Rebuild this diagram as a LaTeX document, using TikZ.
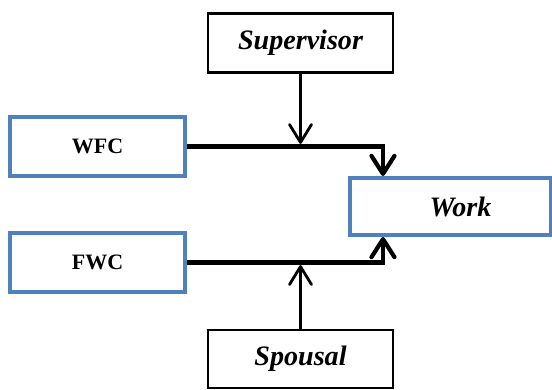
\documentclass[tikz,border=0pt]{standalone}
\usepackage{fontspec}
\setmainfont{Liberation Serif}
\usetikzlibrary{arrows.meta}
\definecolor{boxblue}{RGB}{79,129,189}
\tikzset{
	blackbox/.style={draw=black,line width=1.6pt,minimum width=3.7cm,minimum height=1.18cm,font=\fontsize{16}{18}\selectfont\bfseries\itshape},
	bluebox/.style={draw=boxblue,line width=2.3pt,minimum width=3.5cm,minimum height=1.18cm,font=\fontsize{12.5}{14}\selectfont\bfseries},
	link/.style={line width=2.4pt,-{Straight Barb[length=0.36cm,width=0.46cm,round]}},
	feed/.style={line width=1.6pt,-{Straight Barb[length=0.36cm,width=0.44cm,round]}}
}
\begin{document}
\begin{tikzpicture}
	\useasboundingbox (0,0) rectangle (11.04,-7.78);
	\node[blackbox] (supervisor) at (6.01,-0.86) {Supervisor};
	\node[bluebox] (wfc) at (1.95,-2.93) {WFC};
	\node[bluebox] (fwc) at (1.95,-5.25) {FWC};
	\node[bluebox,minimum width=4.02cm,minimum height=1.14cm,font=\fontsize{16}{18}\selectfont\bfseries\itshape] (work) at (9.01,-4.13) {\hspace*{0.4cm}Work};
	\node[blackbox,minimum height=1.16cm] (spousal) at (6.01,-7.18) {Spousal};
	\coordinate (wfcin) at ([xshift=0.7cm]work.north west);
	\coordinate (fwcin) at ([xshift=0.7cm]work.south west);
	\coordinate (supin) at ([yshift=1.5pt]supervisor.south |- wfc.east);
	\coordinate (spoin) at ([yshift=-1.5pt]spousal.north |- fwc.east);
	\draw[link] (wfc.east) -| (wfcin);
	\draw[link] (fwc.east) -| (fwcin);
	\draw[feed] (supervisor) -- (supin);
	\draw[feed] (spousal) -- (spoin);
\end{tikzpicture}
\end{document}
